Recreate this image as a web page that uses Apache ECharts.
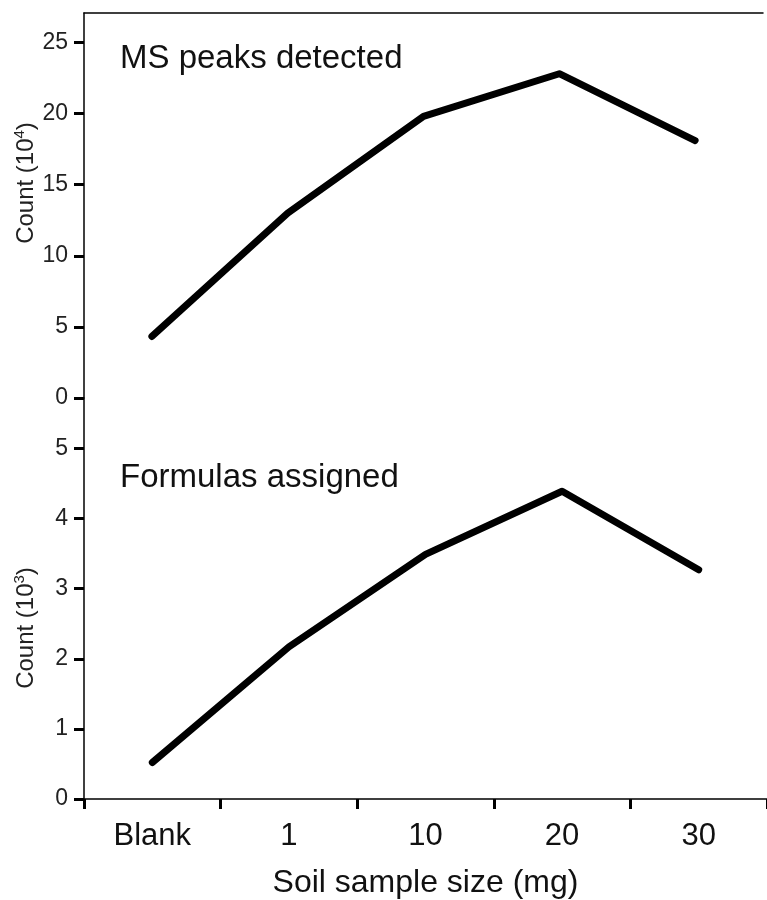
<!DOCTYPE html>
<html>
<head>
<meta charset="utf-8">
<script src="https://cdn.jsdelivr.net/npm/echarts@6/dist/echarts.min.js"></script>
<style>
html,body{margin:0;padding:0;background:#fff;}
#chart{width:767px;height:900px;}
</style>
</head>
<body>
<div id="chart"></div>
<script>
var categories = ['Blank', '1', '10', '20', '30'];
var msPeaks = [4.33, 13.0, 19.8, 22.8, 18.1];          // Count (10^4)
var formulas = [0.52, 2.17, 3.49, 4.39, 3.27];         // Count (10^3)
var topTicks = [0, 5, 10, 15, 20, 25];
var bottomTicks = [0, 1, 2, 3, 4, 5];
var topTitle = 'MS peaks detected';
var bottomTitle = 'Formulas assigned';
var xName = 'Soil sample size (mg)';
var topYName = ['Count (10', '4', ')'];
var bottomYName = ['Count (10', '3', ')'];

var FONT = 'Liberation Sans, Arial, sans-serif';
var chart = echarts.init(document.getElementById('chart'), null, {renderer: 'canvas'});

var nameRich = {
  n: {fontSize: 24, fontFamily: FONT, fill: '#222', lineHeight: 28},
  s: {fontSize: 15, fontFamily: FONT, fill: '#222', verticalAlign: 'top', lineHeight: 28, padding: [0, 0, 8, 0]}
};

function yName(parts, cy) {
  return {
    type: 'text', x: 26, y: cy, rotation: Math.PI / 2,
    style: {
      text: '{n|' + parts[0] + '}{s|' + parts[1] + '}{n|' + parts[2] + '}',
      rich: nameRich, align: 'center', verticalAlign: 'middle', fill: '#222',
      font: '24px ' + FONT
    }
  };
}

function yAxisBase(grid, max, interval, ticks) {
  return {
    type: 'value', gridIndex: grid, min: 0, max: max, interval: interval,
    axisLine: {show: true, lineStyle: {color: '#000', width: 1.5}},
    axisTick: {show: true, inside: false, length: 10, lineStyle: {color: '#000', width: 3}, customValues: ticks},
    axisLabel: {show: true, color: '#222', fontSize: 23, fontFamily: FONT, margin: 16, customValues: ticks},
    splitLine: {show: false}
  };
}

var option = {
  backgroundColor: '#fff',
  animation: false,
  title: [
    {text: topTitle, left: 115, top: 37, textStyle: {fontFamily: FONT, fontSize: 33, fontWeight: 'normal', color: '#111'}},
    {text: bottomTitle, left: 115, top: 456, textStyle: {fontFamily: FONT, fontSize: 33, fontWeight: 'normal', color: '#111'}}
  ],
  graphic: [
    yName(topYName, 183),
    yName(bottomYName, 628)
  ],
  grid: [
    {left: 84, top: 13, height: 385, right: 4},
    {left: 84, top: 398, height: 405, right: -2}
  ],
  xAxis: [
    {
      type: 'category', gridIndex: 0, data: categories, position: 'top', boundaryGap: true,
      axisLine: {show: true, onZero: false, lineStyle: {color: '#000', width: 1.5}},
      axisTick: {show: false}, axisLabel: {show: false}, splitLine: {show: false}
    },
    {
      type: 'category', gridIndex: 1, data: categories, position: 'bottom', boundaryGap: true,
      axisLine: {show: true, onZero: false, lineStyle: {color: '#000', width: 1.5}},
      axisTick: {show: true, inside: false, length: 10, alignWithLabel: false, lineStyle: {color: '#000', width: 3}},
      axisLabel: {show: true, color: '#111', fontSize: 31, fontFamily: FONT, margin: 22},
      splitLine: {show: false},
      name: xName, nameLocation: 'middle', nameGap: 68,
      nameTextStyle: {color: '#111', fontSize: 32, fontFamily: FONT}
    }
  ],
  yAxis: [
    yAxisBase(0, 27.07, 5, topTicks),
    yAxisBase(1, 5.72, 1, bottomTicks)
  ],
  series: [
    {
      type: 'line', xAxisIndex: 0, yAxisIndex: 0, data: msPeaks,
      symbol: 'none', showSymbol: false,
      lineStyle: {color: '#000', width: 7, cap: 'round', join: 'round'}
    },
    {
      type: 'line', xAxisIndex: 1, yAxisIndex: 1, data: formulas,
      symbol: 'none', showSymbol: false,
      lineStyle: {color: '#000', width: 7, cap: 'round', join: 'round'}
    }
  ]
};
chart.setOption(option);
</script>
</body>
</html>
